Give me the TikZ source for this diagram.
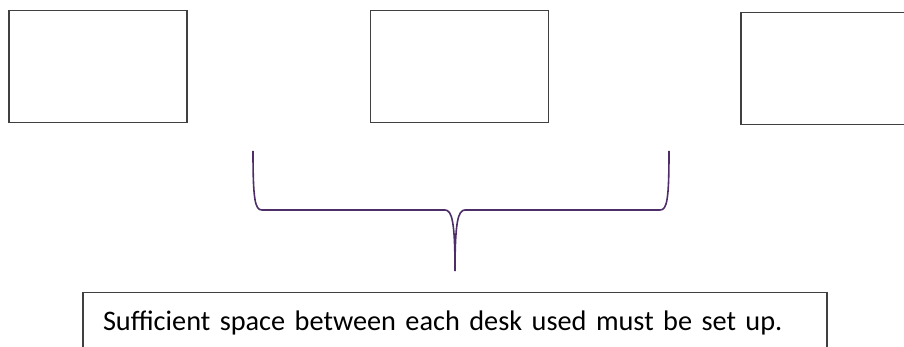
\documentclass[tikz,border=0pt]{standalone}
\usepackage{fontspec}
\setmainfont{Carlito}
\usepackage{tikz}
\usetikzlibrary{positioning}

\definecolor{bordo}{RGB}{64,64,64}
\definecolor{viola}{RGB}{78,46,104}

\begin{document}
\begin{tikzpicture}[x=1pt, y=-1pt]
	\tikzstyle{desk} = [rectangle, draw=bordo, line width=1.5pt, fill=white, minimum width=178pt, minimum height=112pt, inner sep=0pt]
	\tikzstyle{nota} = [rectangle, draw=bordo, line width=1.3pt, minimum width=744pt, text width=704pt, align=left, inner xsep=20pt, inner ysep=17pt, text height=21pt, text depth=6pt, font=\fontsize{28.3pt}{32pt}\selectfont]
	\tikzstyle{graffa} = [draw=viola, line width=1.6pt]

	\useasboundingbox (0,0) rectangle (904,347);

	\node [desk, anchor=north west] (deskleft) at (8,10) {};
	\node [desk, right=182pt of deskleft] (deskmid) {};
	\node [desk, right=191pt of deskmid, yshift=-2pt] (deskright) {};

	% brace under the gap
	\coordinate (bl) at (253,151);
	\coordinate (br) at (669,151);
	\coordinate (tip) at (455,271);
	\draw [graffa] (bl) .. controls (253,200) and (255,210) .. (262,210) -- (445,210)
		.. controls (452,210) and (455,222) .. (tip);
	\draw [graffa] (br) .. controls (669,200) and (667,210) .. (660,210) -- (465,210)
		.. controls (458,210) and (455,222) .. (tip);

	\node [nota, below=21pt of tip] (testo) {Sufficient space between each desk used must be set up.};
\end{tikzpicture}
\end{document}
